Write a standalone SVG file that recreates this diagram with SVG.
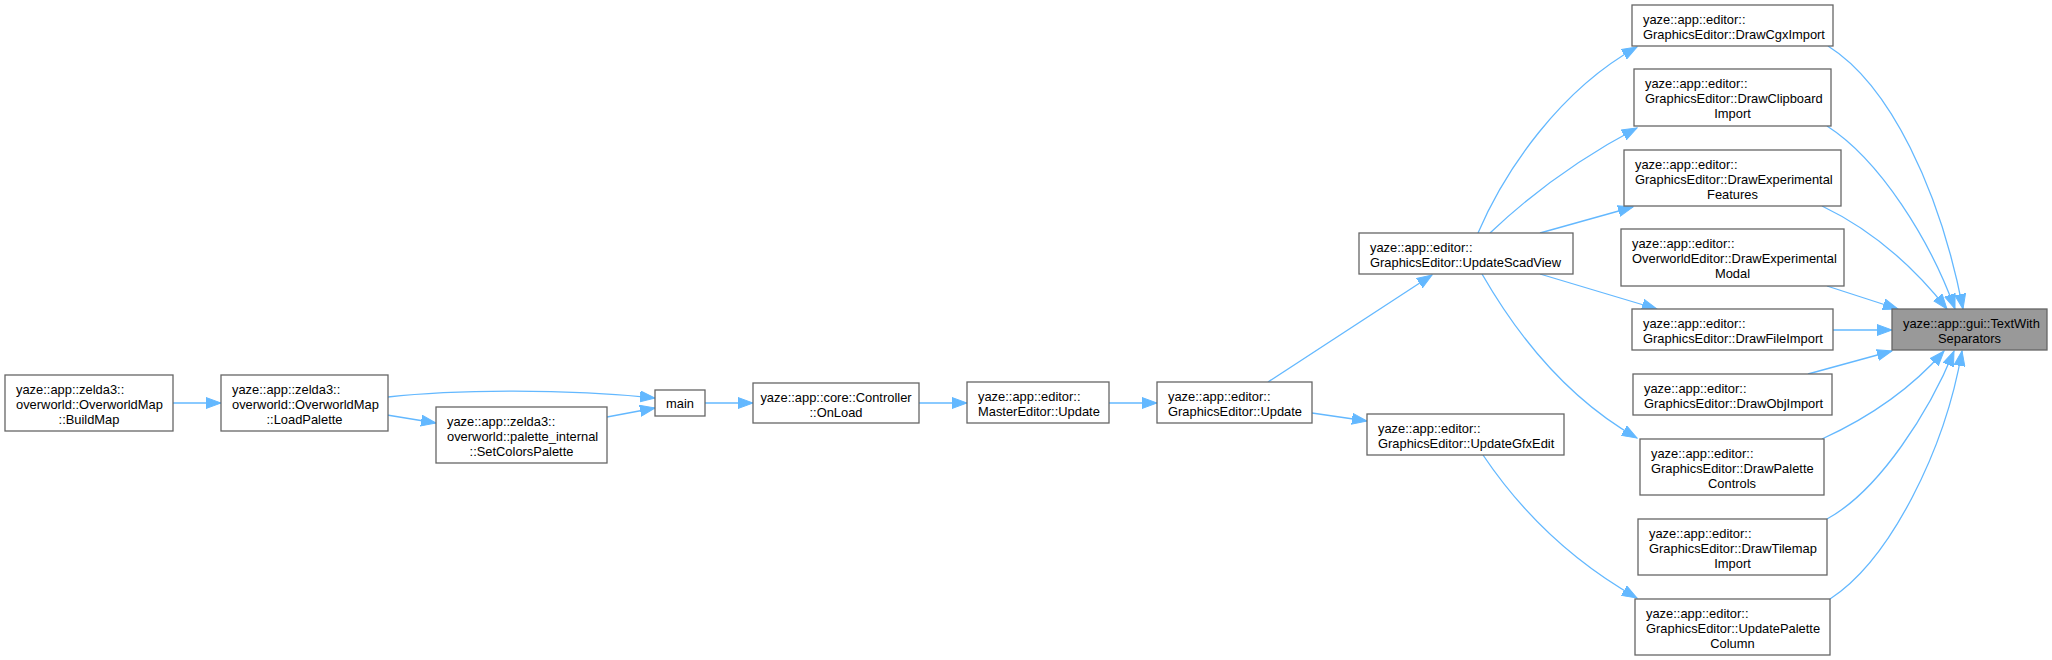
<svg xmlns="http://www.w3.org/2000/svg" width="2052" height="660" viewBox="0 0 2052 660">
<style>
.n rect{fill:#ffffff;stroke:#666666;stroke-width:1.3}
.t rect{fill:#999999;stroke:#666666;stroke-width:1.3}
text{font-family:"Liberation Sans",Arial,Helvetica,sans-serif;font-size:12.9px;fill:#000000}
.c{text-anchor:middle}
#edges path{fill:none;stroke:#63b8ff;stroke-width:1.3;marker-end:url(#a)}
</style>
<defs>
<marker id="a" markerWidth="16" markerHeight="12" refX="15" refY="6" orient="auto" markerUnits="userSpaceOnUse">
<path d="M0,0.5 L15,6 L0,11.5 Z" fill="#63b8ff" stroke="#63b8ff" stroke-width="1"/>
</marker>
</defs>
<rect width="2052" height="660" fill="#ffffff"/>
<g id="edges">
<path d="M173,403 L221,403"/>
<path d="M388,397 C450,390 560,388 655,398"/>
<path d="M387,415 L436,423"/>
<path d="M607,417 L655,408"/>
<path d="M705,403 L753,403"/>
<path d="M919,403 L967,403"/>
<path d="M1109,403 L1157,403"/>
<path d="M1268,382 L1432,275"/>
<path d="M1312,413 L1367,421"/>
<path d="M1478,233 C1505,170 1560,90 1637,47"/>
<path d="M1490,233 C1530,195 1580,158 1637,128"/>
<path d="M1540,233 L1633,207"/>
<path d="M1540,274 L1657,309"/>
<path d="M1482,274 C1520,340 1570,400 1637,438"/>
<path d="M1483,455 C1520,510 1570,560 1637,598"/>
<path d="M1828,46 C1890,85 1940,190 1963,309"/>
<path d="M1827,126 C1880,160 1930,240 1955,309"/>
<path d="M1822,206 C1868,228 1910,262 1947,309"/>
<path d="M1827,286 L1898,309"/>
<path d="M1833,330 L1892,330"/>
<path d="M1808,374 L1892,351"/>
<path d="M1822,439 C1868,418 1910,390 1944,351"/>
<path d="M1827,519 C1880,490 1930,410 1954,351"/>
<path d="M1830,599 C1890,560 1945,450 1962,351"/>
</g>
<g id="n_buildmap" class="n"><rect x="5" y="375" width="168" height="56"/><text x="16" y="393.5">yaze::app::zelda3::</text><text x="16" y="408.5">overworld::OverworldMap</text><text class="c" x="89" y="423.5">::BuildMap</text></g>
<g id="n_loadpalette" class="n"><rect x="221" y="375" width="167" height="56"/><text x="232" y="393.5">yaze::app::zelda3::</text><text x="232" y="408.5">overworld::OverworldMap</text><text class="c" x="304.5" y="423.5">::LoadPalette</text></g>
<g id="n_setcolors" class="n"><rect x="436" y="407" width="171" height="56"/><text x="447" y="425.5">yaze::app::zelda3::</text><text x="447" y="440.5">overworld::palette_internal</text><text class="c" x="521.5" y="455.5">::SetColorsPalette</text></g>
<g id="n_main" class="n"><rect x="655" y="390" width="50" height="26"/><text class="c" x="680" y="407.5">main</text></g>
<g id="n_onload" class="n"><rect x="753" y="383" width="166" height="40"/><text class="c" x="836" y="401.5">yaze::app::core::Controller</text><text class="c" x="836" y="416.5">::OnLoad</text></g>
<g id="n_masterupdate" class="n"><rect x="967" y="382" width="142" height="41"/><text x="978" y="400.5">yaze::app::editor::</text><text x="978" y="415.5">MasterEditor::Update</text></g>
<g id="n_gfxupdate" class="n"><rect x="1157" y="382" width="155" height="41"/><text x="1168" y="400.5">yaze::app::editor::</text><text x="1168" y="415.5">GraphicsEditor::Update</text></g>
<g id="n_scadview" class="n"><rect x="1359" y="233" width="214" height="41"/><text x="1370" y="251.5">yaze::app::editor::</text><text x="1370" y="266.5">GraphicsEditor::UpdateScadView</text></g>
<g id="n_gfxedit" class="n"><rect x="1367" y="414" width="197" height="41"/><text x="1378" y="432.5">yaze::app::editor::</text><text x="1378" y="447.5">GraphicsEditor::UpdateGfxEdit</text></g>
<g id="n_cgx" class="n"><rect x="1632" y="5" width="201" height="41"/><text x="1643" y="23.5">yaze::app::editor::</text><text x="1643" y="38.5">GraphicsEditor::DrawCgxImport</text></g>
<g id="n_clipboard" class="n"><rect x="1634" y="69" width="197" height="57"/><text x="1645" y="87.5">yaze::app::editor::</text><text x="1645" y="102.5">GraphicsEditor::DrawClipboard</text><text class="c" x="1732.5" y="117.5">Import</text></g>
<g id="n_expfeatures" class="n"><rect x="1624" y="150" width="217" height="56"/><text x="1635" y="168.5">yaze::app::editor::</text><text x="1635" y="183.5">GraphicsEditor::DrawExperimental</text><text class="c" x="1732.5" y="198.5">Features</text></g>
<g id="n_expmodal" class="n"><rect x="1621" y="229" width="223" height="57"/><text x="1632" y="247.5">yaze::app::editor::</text><text x="1632" y="262.5">OverworldEditor::DrawExperimental</text><text class="c" x="1732.5" y="277.5">Modal</text></g>
<g id="n_fileimport" class="n"><rect x="1632" y="309" width="201" height="41"/><text x="1643" y="327.5">yaze::app::editor::</text><text x="1643" y="342.5">GraphicsEditor::DrawFileImport</text></g>
<g id="n_textwithsep" class="t"><rect x="1892" y="309" width="155" height="41"/><text x="1903" y="327.5">yaze::app::gui::TextWith</text><text class="c" x="1969.5" y="342.5">Separators</text></g>
<g id="n_objimport" class="n"><rect x="1633" y="374" width="199" height="41"/><text x="1644" y="392.5">yaze::app::editor::</text><text x="1644" y="407.5">GraphicsEditor::DrawObjImport</text></g>
<g id="n_palettecontrols" class="n"><rect x="1640" y="439" width="184" height="56"/><text x="1651" y="457.5">yaze::app::editor::</text><text x="1651" y="472.5">GraphicsEditor::DrawPalette</text><text class="c" x="1732" y="487.5">Controls</text></g>
<g id="n_tilemap" class="n"><rect x="1638" y="519" width="189" height="56"/><text x="1649" y="537.5">yaze::app::editor::</text><text x="1649" y="552.5">GraphicsEditor::DrawTilemap</text><text class="c" x="1732.5" y="567.5">Import</text></g>
<g id="n_palettecolumn" class="n"><rect x="1635" y="599" width="195" height="56"/><text x="1646" y="617.5">yaze::app::editor::</text><text x="1646" y="632.5">GraphicsEditor::UpdatePalette</text><text class="c" x="1732.5" y="647.5">Column</text></g>
</svg>
